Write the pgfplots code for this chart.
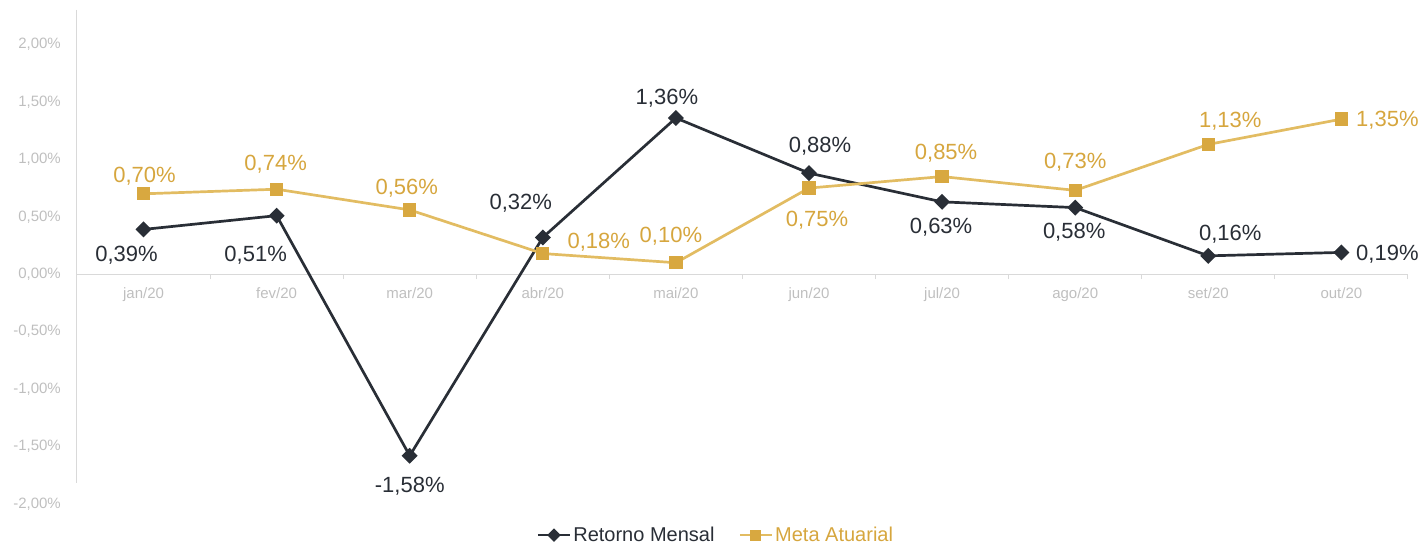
\documentclass[border=0pt]{standalone}
\usepackage{fontspec}
\setmainfont{Liberation Sans}
\usepackage{pgfplots}
\pgfplotsset{compat=1.18}
\definecolor{dark}{RGB}{41,46,54}
\definecolor{goldline}{RGB}{226,188,98}
\definecolor{goldmark}{RGB}{216,168,64}
\definecolor{goldtext}{RGB}{214,166,62}
\definecolor{ticktext}{RGB}{191,191,191}
\definecolor{axisgray}{RGB}{217,217,217}
\tikzset{
  rlab/.style={font=\fontsize{22bp}{25bp}\selectfont, text=dark, inner sep=0pt},
  glab/.style={font=\fontsize{22bp}{25bp}\selectfont, text=goldtext, inner sep=0pt},
}
\begin{document}
\begin{tikzpicture}
\useasboundingbox (-77bp,-41bp) rectangle (1347bp,504bp);
\begin{axis}[
  at={(0,0)}, anchor=south west,
  scale only axis, width=1331bp, height=494bp,
  xmin=-0.5, xmax=9.5, ymin=-2, ymax=2.3,
  clip=false,
  axis x line=middle, axis y line=left,
  x axis line style={draw=axisgray, line width=1bp, -},
  y axis line style={draw=none},
  xtick={0,1,2,3,4,5,6,7,8,9},
  xticklabels={jan/20,fev/20,mar/20,abr/20,mai/20,jun/20,jul/20,ago/20,set/20,out/20},
  minor xtick={-0.5,0.5,1.5,2.5,3.5,4.5,5.5,6.5,7.5,8.5,9.5},
  major tick length=0pt, minor tick length=5bp,
  minor x tick style={draw=axisgray, line width=1bp},
  major tick style={draw=none},
  tick align=outside,
  ytick={-2,-1.5,-1,-0.5,0,0.5,1,1.5,2},
  yticklabels={{-2,00\%},{-1,50\%},{-1,00\%},{-0,50\%},{0,00\%},{0,50\%},{1,00\%},{1,50\%},{2,00\%}},
  ticklabel style={font=\fontsize{15bp}{17bp}\selectfont, text=ticktext, inner sep=0pt},
  yticklabel style={anchor=east, xshift=-16bp},
  xticklabel style={anchor=north, yshift=-13bp},
  legend style={at={(0.480,-0.063)}, anchor=center, draw=none, fill=none,
    font=\fontsize{20bp}{23bp}\selectfont, inner sep=0pt,
    /tikz/every even column/.append style={column sep=22bp}},
  legend columns=2,
  legend image code/.code={\draw[#1, mark repeat=2, mark phase=2, every mark/.append style={scale=0.8}] plot coordinates {(0bp,0bp) (16bp,0bp) (32bp,0bp)};},
]
\addplot[color=dark, line width=2.7bp, mark=square*, mark size=4.3bp, mark options={rotate=45, fill=dark, draw=dark}]
  coordinates {(0,0.39) (1,0.51) (2,-1.58) (3,0.32) (4,1.36) (5,0.88) (6,0.63) (7,0.58) (8,0.16) (9,0.19)};
\addlegendentry{\textcolor{dark}{Retorno Mensal}}
\addplot[color=goldline, line width=2.7bp, mark=square*, mark size=5.3bp, mark options={fill=goldmark, draw=goldmark}]
  coordinates {(0,0.70) (1,0.74) (2,0.56) (3,0.18) (4,0.10) (5,0.75) (6,0.85) (7,0.73) (8,1.13) (9,1.35)};
\addlegendentry{\textcolor{goldtext}{Meta Atuarial}}
\draw[axisgray, line width=1bp] (axis cs:-0.5,2.3) -- (axis cs:-0.5,-1.82);
% Retorno labels
\node[rlab] at ([shift={(-17bp,-26bp)}]axis cs:0,0.39) {0,39\%};
\node[rlab] at ([shift={(-21bp,-40bp)}]axis cs:1,0.51) {0,51\%};
\node[rlab] at ([shift={(0bp,-30bp)}]axis cs:2,-1.58) {-1,58\%};
\node[rlab] at ([shift={(-22bp,34bp)}]axis cs:3,0.32) {0,32\%};
\node[rlab] at ([shift={(-9bp,20bp)}]axis cs:4,1.36) {1,36\%};
\node[rlab] at ([shift={(11bp,27bp)}]axis cs:5,0.88) {0,88\%};
\node[rlab] at ([shift={(-1bp,-25bp)}]axis cs:6,0.63) {0,63\%};
\node[rlab] at ([shift={(-1bp,-25bp)}]axis cs:7,0.58) {0,58\%};
\node[rlab] at ([shift={(22bp,22bp)}]axis cs:8,0.16) {0,16\%};
\node[rlab] at ([shift={(46bp,-2bp)}]axis cs:9,0.19) {0,19\%};
% Meta labels
\node[glab] at ([shift={(1bp,18bp)}]axis cs:0,0.70) {0,70\%};
\node[glab] at ([shift={(-1bp,25bp)}]axis cs:1,0.74) {0,74\%};
\node[glab] at ([shift={(-3bp,22bp)}]axis cs:2,0.56) {0,56\%};
\node[glab] at ([shift={(56bp,11bp)}]axis cs:3,0.18) {0,18\%};
\node[glab] at ([shift={(-5bp,27bp)}]axis cs:4,0.10) {0,10\%};
\node[glab] at ([shift={(8bp,-32bp)}]axis cs:5,0.75) {0,75\%};
\node[glab] at ([shift={(4bp,23bp)}]axis cs:6,0.85) {0,85\%};
\node[glab] at ([shift={(0bp,28bp)}]axis cs:7,0.73) {0,73\%};
\node[glab] at ([shift={(22bp,23bp)}]axis cs:8,1.13) {1,13\%};
\node[glab] at ([shift={(46bp,-1bp)}]axis cs:9,1.35) {1,35\%};
\end{axis}
\end{tikzpicture}
\end{document}
